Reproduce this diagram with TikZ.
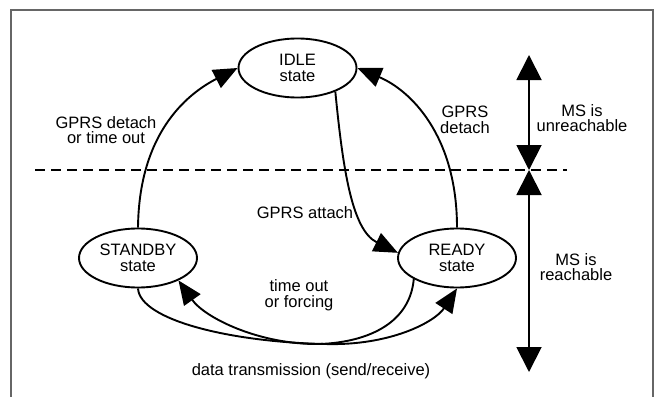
\documentclass[tikz,border=0pt]{standalone}
\usepackage{fontspec}
\setmainfont{Liberation Sans}
\usetikzlibrary{arrows.meta,shapes.geometric}

\newcommand\diagfont{\fontsize{16.5}{15.5}\selectfont}

\begin{document}
\begin{tikzpicture}[x=1pt,y=-1pt,
  every node/.style={font=\diagfont,align=center,inner sep=0pt},
  statebox/.style={ellipse,draw,line width=1.9pt,minimum width=118pt,minimum height=59pt},
  trans/.style={line width=1.9pt,-{Triangle[length=24pt,width=20pt]}},
  reacharrow/.style={line width=1.9pt,{Triangle[length=25pt,width=25pt]}-{Triangle[length=25pt,width=25pt]}},
  framebox/.style={draw=black!60,line width=1.4pt},
  divider/.style={line width=1.9pt,dash pattern=on 10pt off 6pt}]

\useasboundingbox (0,0) rectangle (658,396);

% open frame
\draw[framebox] (11,400) -- (11,10) -- (653,10) -- (653,400);

% states
\node[statebox] (idle) at (297.5,68) {IDLE\\state};
\node[statebox] (standby) at (138,258) {STANDBY\\state};
\node[statebox] (ready) at (457,258) {READY\\state};

% reachability boundary
\coordinate (dl) at (35,170);
\coordinate (dr) at (567,170);
\draw[divider] (dl) -- (dr);

% reachability ranges
\coordinate (rtop) at (529,55);
\coordinate (rmid) at (529,170);
\coordinate (rbot) at (529,372);
\draw[reacharrow] (rtop) -- (rmid);
\draw[reacharrow] (rmid) -- (rbot);

% transitions
\draw[trans] (standby.north) .. controls (139,135) and (185,95) .. (idle.west);
\draw[trans] (ready.north) .. controls (457,135) and (410,90) .. (idle.east);
\draw[trans] (idle.-32) .. controls (343,170) and (352,230) .. (ready.175);
\draw[trans] (standby.south) .. controls (140,320) and (230,342) .. (325,344)
                             .. controls (390,346) and (435,322) .. (ready.south);
\draw[trans] (ready.206) .. controls (410,322) and (370,342) .. (320,344)
                         .. controls (260,345) and (205,318) .. (standby.-29);

% labels
\node at (106,130) {GPRS detach\\or time out};
\node at (465,120) {GPRS\\detach};
\node at (305,213) {GPRS attach};
\node at (299,295) {time out\\or forcing};
\node[anchor=base] at (311,375) {data transmission (send/receive)};
\node at (582,118) {MS is\\unreachable};
\node at (576,267) {MS is\\reachable};

\end{tikzpicture}
\end{document}
